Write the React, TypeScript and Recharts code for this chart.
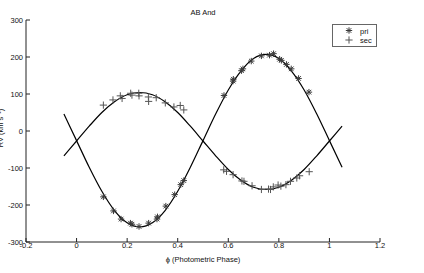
import { ComposedChart, Line, Scatter, XAxis, YAxis } from "recharts";

// fitted orbit curves, read every 0.05 in phase
const curvePhase = [
  -0.05, 0, 0.05, 0.1, 0.15, 0.2, 0.25, 0.3, 0.35, 0.4, 0.45, 0.5, 0.55, 0.6, 0.65, 0.7, 0.75,
  0.8, 0.85, 0.9, 0.95, 1.0, 1.05,
];
const priCurve = [
  46, -26, -98, -163, -215, -248, -259, -248, -215, -163, -98, -26, 46, 111, 162, 196, 207, 196,
  162, 111, 46, -26, -98,
];
const secCurve = [
  -67, -27, 13, 50, 79, 98, 104, 98, 79, 50, 13, -27, -67, -104, -133, -152, -158, -152, -133,
  -104, -67, -27, 13,
];

// observed velocities
const priPhase = [
  0.106, 0.146, 0.176, 0.213, 0.219, 0.247, 0.285, 0.318, 0.32, 0.353, 0.388, 0.412, 0.424,
  0.583, 0.619, 0.62, 0.652, 0.658, 0.691, 0.731, 0.763, 0.779, 0.803, 0.81, 0.83, 0.849, 0.878,
  0.919,
];
const priRv = [
  -178, -216, -238, -249, -252, -258, -249, -238, -232, -203, -172, -145, -134, 96, 135, 140, 163,
  168, 189, 203, 205, 209, 194, 191, 180, 168, 142, 105,
];
const secPhase = [
  0.106, 0.144, 0.173, 0.18, 0.214, 0.219, 0.246, 0.247, 0.284, 0.285, 0.315, 0.351, 0.385, 0.41,
  0.424, 0.582, 0.593, 0.619, 0.654, 0.662, 0.694, 0.731, 0.759, 0.767, 0.778, 0.797, 0.808,
  0.828, 0.846, 0.871, 0.882, 0.92,
];
const secRv = [
  70, 84, 95, 88, 102, 97, 102, 95, 92, 80, 90, 76, 65, 69, 57, -105, -109, -118, -135, -136, -148,
  -158, -157, -158, -151, -146, -149, -145, -136, -127, -121, -110,
];

const phaseTicks = [-0.2, 0, 0.2, 0.4, 0.6, 0.8, 1, 1.2];
const rvTicks = [-300, -200, -100, 0, 100, 200, 300];

const font = "'Liberation Sans', Arial, sans-serif";
const tickStyle = { fontSize: 7.5, fill: "#111", fontFamily: font };

const priLine = curvePhase.map((phase, i) => ({ phase, rv: priCurve[i] }));
const secLine = curvePhase.map((phase, i) => ({ phase, rv: secCurve[i] }));
const priPts = priPhase.map((phase, i) => ({ phase, rv: priRv[i] }));
const secPts = secPhase.map((phase, i) => ({ phase, rv: secRv[i] }));

const Star = ({ cx, cy }: { cx?: number; cy?: number }) => {
  if (cx == null || cy == null) return null;
  const r = 3.2;
  const d = r * 0.72;
  return (
    <g stroke="#3a3a3a" strokeWidth={1}>
      <line x1={cx - r} y1={cy} x2={cx + r} y2={cy} />
      <line x1={cx} y1={cy - r} x2={cx} y2={cy + r} />
      <line x1={cx - d} y1={cy - d} x2={cx + d} y2={cy + d} />
      <line x1={cx - d} y1={cy + d} x2={cx + d} y2={cy - d} />
    </g>
  );
};

const Plus = ({ cx, cy }: { cx?: number; cy?: number }) => {
  if (cx == null || cy == null) return null;
  const r = 3.6;
  return (
    <g stroke="#555" strokeWidth={1}>
      <line x1={cx - r} y1={cy} x2={cx + r} y2={cy} />
      <line x1={cx} y1={cy - r} x2={cx} y2={cy + r} />
    </g>
  );
};

const noLabel = () => <text />;

export default function App() {
  return (
    <div style={{ position: "absolute", left: 0, top: 0, width: 424, height: 273, background: "#fff" }}>
      <ComposedChart
        width={424}
        height={273}
        margin={{ top: 20, right: 44, bottom: 0, left: 0 }}
      >
        <XAxis
          dataKey="phase"
          type="number"
          domain={[-0.2, 1.2]}
          ticks={phaseTicks}
          height={31}
          tickSize={-4}
          tickMargin={5}
          tick={tickStyle}
          stroke="#222"
          allowDataOverflow
        />
        <XAxis
          xAxisId="top"
          orientation="top"
          type="number"
          domain={[-0.2, 1.2]}
          ticks={phaseTicks}
          height={0}
          tickSize={-4}
          tick={noLabel}
          stroke="#888"
          allowDataOverflow
        />
        <YAxis
          dataKey="rv"
          type="number"
          domain={[-300, 300]}
          ticks={rvTicks}
          width={26}
          tickSize={-4}
          tickMargin={7}
          tick={tickStyle}
          stroke="#222"
          allowDataOverflow
        />
        <YAxis
          yAxisId="right"
          orientation="right"
          type="number"
          domain={[-300, 300]}
          ticks={rvTicks}
          width={0}
          tickSize={-4}
          tick={noLabel}
          stroke="#888"
          allowDataOverflow
        />
        <Line
          data={priLine}
          dataKey="rv"
          type="monotone"
          stroke="#000"
          strokeWidth={1.2}
          dot={false}
          activeDot={false}
          isAnimationActive={false}
        />
        <Line
          data={secLine}
          dataKey="rv"
          type="monotone"
          stroke="#000"
          strokeWidth={1.2}
          dot={false}
          activeDot={false}
          isAnimationActive={false}
        />
        <Scatter data={priPts} dataKey="rv" shape={<Star />} isAnimationActive={false} />
        <Scatter data={secPts} dataKey="rv" shape={<Plus />} isAnimationActive={false} />
      </ComposedChart>
      <svg
        width={424}
        height={273}
        style={{ position: "absolute", left: 0, top: 0, pointerEvents: "none" }}
        fontFamily={font}
        fontSize={7.5}
        fill="#111"
      >
        <text x={203} y={15} textAnchor="middle">AB And</text>
        <text x={203} y={261.5} textAnchor="middle">ϕ (Photometric Phase)</text>
        <text x={3} y={128} textAnchor="middle" transform="rotate(-90 3 128)">
          RV (km s⁻¹)
        </text>
        <rect x={332.5} y={24.5} width={44} height={22} fill="#fff" stroke="#666" />
        <Star cx={349} cy={30.5} />
        <text x={360} y={33.5}>pri</text>
        <Plus cx={349} cy={40} />
        <text x={360} y={43}>sec</text>
      </svg>
    </div>
  );
}
